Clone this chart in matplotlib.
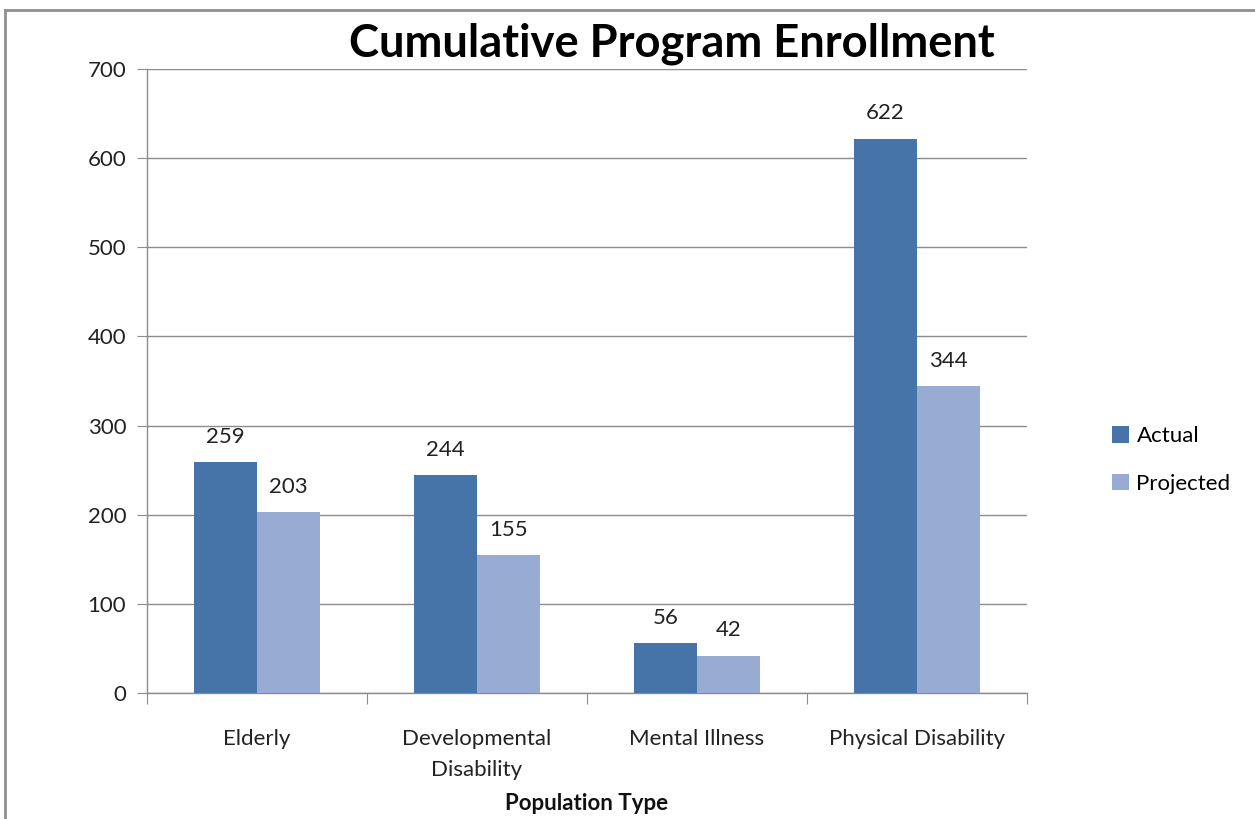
import matplotlib
matplotlib.use("Agg")
import matplotlib.pyplot as plt
from matplotlib.lines import Line2D
import numpy as np

categories = ["Elderly", "Developmental\nDisability", "Mental Illness", "Physical Disability"]
actual = [259, 244, 56, 622]
projected = [203, 155, 42, 344]
series_names = ["Actual", "Projected"]
yticks = [0, 100, 200, 300, 400, 500, 600, 700]

FONT = ["Lato", "DejaVu Sans"]
plt.rcParams['font.family'] = FONT

c_act = "#4673A8"
c_proj = "#97ABD3"
gray = "#8c8c8c"
FS = 16

fig = plt.figure(figsize=(12.55, 8.19), dpi=100)
ax = fig.add_axes([147/1255, 1-693/819, (1027-147)/1255, (693-69)/819])

x = np.arange(len(categories))
w = 1/3.5
b1 = ax.bar(x - w/2, actual, width=w, color=c_act, label=series_names[0], zorder=3)
b2 = ax.bar(x + w/2, projected, width=w, color=c_proj, label=series_names[1], zorder=3)

for bars, vals in ((b1, actual), (b2, projected)):
    for r, v in zip(bars, vals):
        ax.annotate(str(v), (r.get_x() + r.get_width()/2, v), xytext=(0, 11),
                    textcoords="offset points", ha="center", va="bottom", fontsize=FS, color="#222222")

ax.set_xlim(-0.5, len(categories) - 0.5)
ax.set_ylim(0, 700)
ax.set_yticks(yticks)
ax.set_yticklabels([str(t) for t in yticks], fontsize=FS, color="#222222")
ax.yaxis.grid(True, color=gray, linewidth=1, zorder=0)
ax.set_axisbelow(True)

ax.set_xticks(np.arange(-0.5, len(categories), 1.0))
ax.set_xticklabels([])
ax.set_xticks(x, minor=True)
ax.set_xticklabels(categories, minor=True, fontsize=FS, color="#222222", va="top", linespacing=1.68)
ax.tick_params(axis="x", which="major", length=8, color=gray, direction="out")
ax.tick_params(axis="x", which="minor", length=0, pad=26)
ax.tick_params(axis="y", length=7, color=gray, pad=8)

for s in ("top", "right"):
    ax.spines[s].set_visible(False)
for s in ("left", "bottom"):
    ax.spines[s].set_color(gray)
    ax.spines[s].set_linewidth(1)

fig.text(587/1255, 1-803/819, "Population Type", fontsize=FS, fontweight="bold",
         ha="center", va="center", color="#111111")
fig.text(672/1255, 1-44/819, "Cumulative Program Enrollment", fontsize=32.7, fontweight="bold",
         ha="center", va="center", color="#000000")

leg = fig.legend(handles=[b1, b2], labels=series_names, loc="center left",
                 bbox_to_anchor=(1092/1255, 1-460/819), frameon=False, fontsize=FS,
                 handlelength=0.75, handleheight=0.75, handletextpad=0.35, labelspacing=1.25)

# chart border (top and left visible)
fig.add_artist(Line2D([5/1255, 5/1255], [0, 1-10/819], transform=fig.transFigure, color="#909090", linewidth=2))
fig.add_artist(Line2D([5/1255, 1], [1-10/819, 1-10/819], transform=fig.transFigure, color="#909090", linewidth=2))

fig.savefig("out.png", dpi=100)
